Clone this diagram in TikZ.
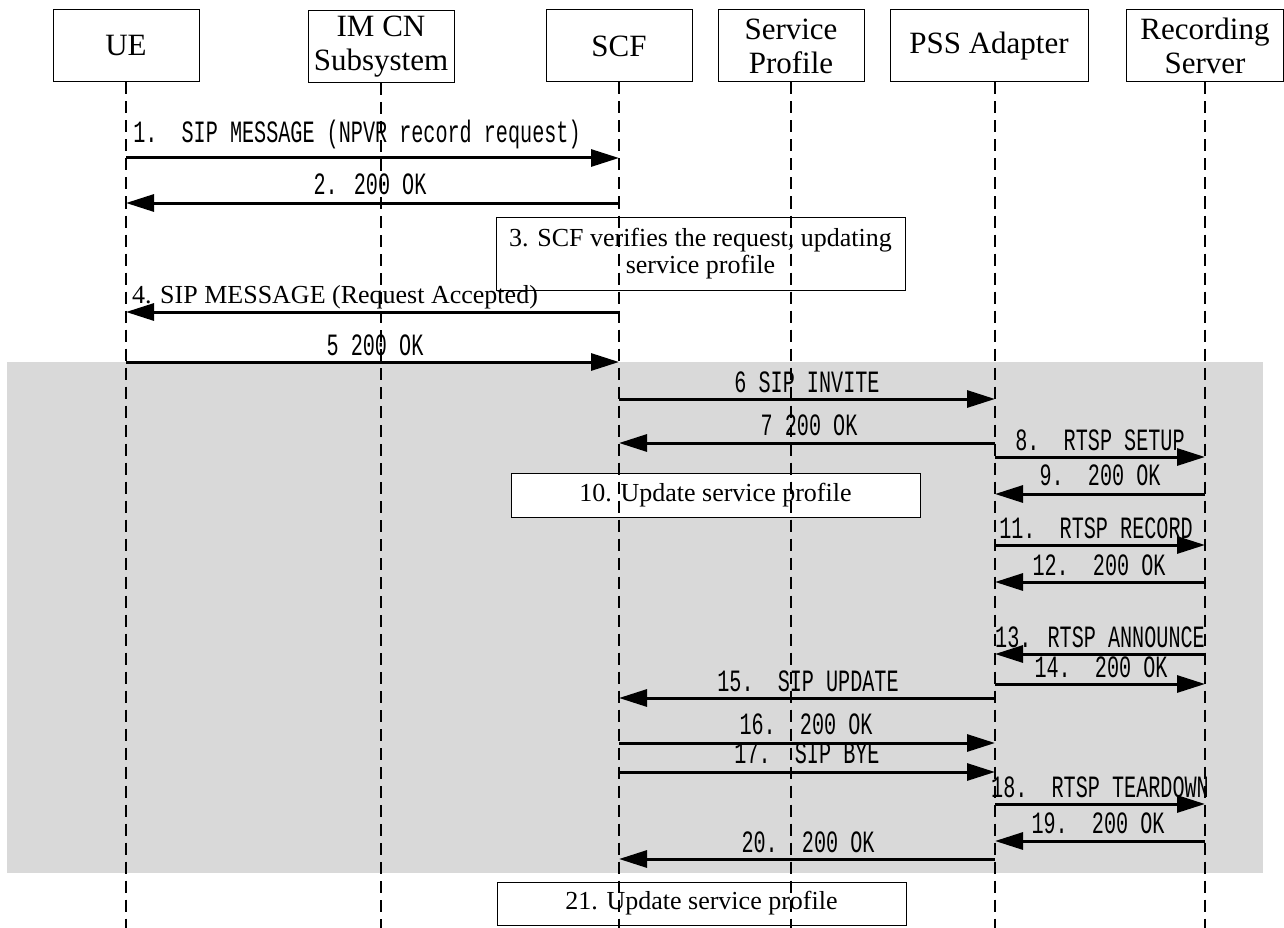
\documentclass[tikz,border=0pt]{standalone}
\usepackage{fontspec}
\setmainfont{Liberation Serif}
\newfontfamily\msgfont[FakeStretch=0.65]{Liberation Mono}
\usetikzlibrary{arrows.meta}
\definecolor{bandgray}{HTML}{D9D9D9}
\begin{document}
\begin{tikzpicture}[x=1pt,y=-1pt,
  hdr/.style={draw, line width=1pt, fill=white, minimum width=146pt, minimum height=72pt,
    align=center, inner sep=0pt, font=\fontsize{31}{34}\selectfont},
  life/.style={dash pattern=on 12pt off 7pt, line width=1.5pt},
  msg/.style={line width=3pt, -{Triangle[length=28pt,width=17pt]}},
  lbl/.style={font=\msgfont\fontsize{31}{33}\selectfont, anchor=base, inner sep=0pt},
  tlbl/.style={font=\fontsize{26}{28}\selectfont, anchor=base, inner sep=0pt},
  note/.style={draw, line width=1pt, fill=white, align=center, inner sep=0pt,
    font=\fontsize{26}{27}\selectfont}]
\useasboundingbox (0,0) rectangle (1284,928);
% shaded band
\fill[bandgray] (7,362) rectangle (1263,873);
% header boxes
\node[hdr] (ue) at (126,46) {UE};
\node[hdr] (ims) at (381,46.5) {IM CN\\Subsystem};
\node[hdr] (scf) at (619,46) {SCF};
\node[hdr] (sp) at (791,46) {Service\\Profile};
\node[hdr, minimum width=198pt] (pss) at (989,46) {PSS Adapter};
\node[hdr, minimum width=157pt] (rs) at (1205,46) {Recording\\Server};
\coordinate (pssT) at ([xshift=6pt]pss.south);
% action boxes
\node[note, minimum width=409pt, minimum height=73pt] (n3) at (700.5,253.5) {3. SCF verifies the request, updating\\service profile};
\node[note, minimum width=409pt, minimum height=44pt] (n10) at (715.5,495) {10. Update service profile};
\node[note, minimum width=409pt, minimum height=43pt] (n21) at (701.5,903.5) {21. Update service profile};
% lifelines
\foreach \n in {ue,ims,scf,sp,rs}{\draw[life] (\n.south) -- (\n.south |- 0,928);}
\draw[life] (pssT) -- (pssT |- 0,928);
% messages
\draw[msg] (ue.south |- 0,158) -- (scf.south |- 0,158);
\node[lbl] (m1) at (357,143) {1.\ \ SIP MESSAGE (NPVR record request)};
\draw[msg] (scf.south |- 0,203) -- (ue.south |- 0,203);
\node[lbl] (m2) at (370,195) {2. 200 OK};
\draw[msg] (scf.south |- 0,312) -- (ue.south |- 0,312);
\node[tlbl] (m4) at (335,303) {4. SIP MESSAGE (Request Accepted)};
\draw[msg] (ue.south |- 0,362) -- (scf.south |- 0,362);
\node[lbl] (m5) at (375,355) {5 200 OK};
\draw[msg] (scf.south |- 0,399) -- (pssT |- 0,399);
\node[lbl] (m6) at (807,392) {6 SIP INVITE};
\draw[msg] (pssT |- 0,443) -- (scf.south |- 0,443);
\node[lbl] (m7) at (809,435) {7 200 OK};
\draw[msg] (pssT |- 0,457) -- (rs.south |- 0,457);
\node[lbl] (m8) at (1100,450) {8.\ \ RTSP SETUP};
\draw[msg] (rs.south |- 0,494) -- (pssT |- 0,494);
\node[lbl] (m9) at (1100,485) {9.\ \ 200 OK};
\draw[msg] (pssT |- 0,545) -- (rs.south |- 0,545);
\node[lbl] (m11) at (1096,538) {11.\ \ RTSP RECORD};
\draw[msg] (rs.south |- 0,582) -- (pssT |- 0,582);
\node[lbl] (m12) at (1099,575) {12.\ \ 200 OK};
\draw[msg] (rs.south |- 0,654) -- (pssT |- 0,654);
\node[lbl] (m13) at (1100,647) {13. RTSP ANNOUNCE};
\draw[msg] (pssT |- 0,684) -- (rs.south |- 0,684);
\node[lbl] (m14) at (1101,677) {14.\ \ 200 OK};
\draw[msg] (pssT |- 0,698) -- (scf.south |- 0,698);
\node[lbl] (m15) at (808,691) {15.\ \ SIP UPDATE};
\draw[msg] (scf.south |- 0,743) -- (pssT |- 0,743);
\node[lbl] (m16) at (806,734) {16.\ \ 200 OK};
\draw[msg] (scf.south |- 0,772) -- (pssT |- 0,772);
\node[lbl] (m17) at (807,763) {17.\ \ SIP BYE};
\draw[msg] (pssT |- 0,804) -- (rs.south |- 0,804);
\node[lbl] (m18) at (1100,797) {18.\ \ RTSP TEARDOWN};
\draw[msg] (rs.south |- 0,841) -- (pssT |- 0,841);
\node[lbl] (m19) at (1098,833) {19.\ \ 200 OK};
\draw[msg] (pssT |- 0,859) -- (scf.south |- 0,859);
\node[lbl] (m20) at (808,852) {20.\ \ 200 OK};
\end{tikzpicture}
\end{document}
